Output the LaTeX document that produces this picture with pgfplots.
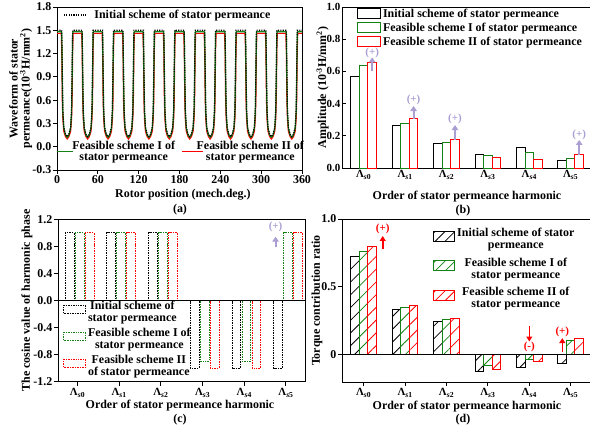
\documentclass[border=0pt]{standalone}
\usepackage{fontspec}
\setmainfont{Liberation Serif}
\usepackage{pgfplots}
\usepackage{pgfplotstable}
\pgfplotsset{compat=1.18}
\usetikzlibrary{arrows.meta,patterns.meta}

\definecolor{mygreen}{RGB}{20,130,20}
\definecolor{myred}{RGB}{255,0,0}
\definecolor{lav}{RGB}{170,158,210}

\newcommand{\fs}{\fontsize{12}{12}\selectfont\bfseries}
\newcommand{\fst}{\fontsize{11}{11}\selectfont\bfseries}
\newcommand{\Lam}[1]{Λ\textsubscript{\textit{s}#1}}

\pgfplotstableread{
x b g r
0 1.50 1.48 1.46
6.3 1.50 1.48 1.46
7 1.50 1.46 1.25
7.8 1.00 0.85 0.60
8.6 0.48 0.44 0.36
10 0.25 0.24 0.20
12.5 0.16 0.15 0.13
15 0.13 0.12 0.10
17.5 0.16 0.15 0.13
20 0.25 0.24 0.20
21.4 0.48 0.44 0.36
22.2 1.00 0.85 0.60
23 1.50 1.46 1.25
23.7 1.50 1.48 1.46
36.3 1.50 1.48 1.46
37 1.50 1.46 1.25
37.8 1.00 0.85 0.60
38.6 0.48 0.44 0.36
40 0.25 0.24 0.20
42.5 0.16 0.15 0.13
45 0.13 0.12 0.10
47.5 0.16 0.15 0.13
50 0.25 0.24 0.20
51.4 0.48 0.44 0.36
52.2 1.00 0.85 0.60
53 1.50 1.46 1.25
53.7 1.50 1.48 1.46
66.3 1.50 1.48 1.46
67 1.50 1.46 1.25
67.8 1.00 0.85 0.60
68.6 0.48 0.44 0.36
70 0.25 0.24 0.20
72.5 0.16 0.15 0.13
75 0.13 0.12 0.10
77.5 0.16 0.15 0.13
80 0.25 0.24 0.20
81.4 0.48 0.44 0.36
82.2 1.00 0.85 0.60
83 1.50 1.46 1.25
83.7 1.50 1.48 1.46
96.3 1.50 1.48 1.46
97 1.50 1.46 1.25
97.8 1.00 0.85 0.60
98.6 0.48 0.44 0.36
100 0.25 0.24 0.20
102.5 0.16 0.15 0.13
105 0.13 0.12 0.10
107.5 0.16 0.15 0.13
110 0.25 0.24 0.20
111.4 0.48 0.44 0.36
112.2 1.00 0.85 0.60
113 1.50 1.46 1.25
113.7 1.50 1.48 1.46
126.3 1.50 1.48 1.46
127 1.50 1.46 1.25
127.8 1.00 0.85 0.60
128.6 0.48 0.44 0.36
130 0.25 0.24 0.20
132.5 0.16 0.15 0.13
135 0.13 0.12 0.10
137.5 0.16 0.15 0.13
140 0.25 0.24 0.20
141.4 0.48 0.44 0.36
142.2 1.00 0.85 0.60
143 1.50 1.46 1.25
143.7 1.50 1.48 1.46
156.3 1.50 1.48 1.46
157 1.50 1.46 1.25
157.8 1.00 0.85 0.60
158.6 0.48 0.44 0.36
160 0.25 0.24 0.20
162.5 0.16 0.15 0.13
165 0.13 0.12 0.10
167.5 0.16 0.15 0.13
170 0.25 0.24 0.20
171.4 0.48 0.44 0.36
172.2 1.00 0.85 0.60
173 1.50 1.46 1.25
173.7 1.50 1.48 1.46
186.3 1.50 1.48 1.46
187 1.50 1.46 1.25
187.8 1.00 0.85 0.60
188.6 0.48 0.44 0.36
190 0.25 0.24 0.20
192.5 0.16 0.15 0.13
195 0.13 0.12 0.10
197.5 0.16 0.15 0.13
200 0.25 0.24 0.20
201.4 0.48 0.44 0.36
202.2 1.00 0.85 0.60
203 1.50 1.46 1.25
203.7 1.50 1.48 1.46
216.3 1.50 1.48 1.46
217 1.50 1.46 1.25
217.8 1.00 0.85 0.60
218.6 0.48 0.44 0.36
220 0.25 0.24 0.20
222.5 0.16 0.15 0.13
225 0.13 0.12 0.10
227.5 0.16 0.15 0.13
230 0.25 0.24 0.20
231.4 0.48 0.44 0.36
232.2 1.00 0.85 0.60
233 1.50 1.46 1.25
233.7 1.50 1.48 1.46
246.3 1.50 1.48 1.46
247 1.50 1.46 1.25
247.8 1.00 0.85 0.60
248.6 0.48 0.44 0.36
250 0.25 0.24 0.20
252.5 0.16 0.15 0.13
255 0.13 0.12 0.10
257.5 0.16 0.15 0.13
260 0.25 0.24 0.20
261.4 0.48 0.44 0.36
262.2 1.00 0.85 0.60
263 1.50 1.46 1.25
263.7 1.50 1.48 1.46
276.3 1.50 1.48 1.46
277 1.50 1.46 1.25
277.8 1.00 0.85 0.60
278.6 0.48 0.44 0.36
280 0.25 0.24 0.20
282.5 0.16 0.15 0.13
285 0.13 0.12 0.10
287.5 0.16 0.15 0.13
290 0.25 0.24 0.20
291.4 0.48 0.44 0.36
292.2 1.00 0.85 0.60
293 1.50 1.46 1.25
293.7 1.50 1.48 1.46
306.3 1.50 1.48 1.46
307 1.50 1.46 1.25
307.8 1.00 0.85 0.60
308.6 0.48 0.44 0.36
310 0.25 0.24 0.20
312.5 0.16 0.15 0.13
315 0.13 0.12 0.10
317.5 0.16 0.15 0.13
320 0.25 0.24 0.20
321.4 0.48 0.44 0.36
322.2 1.00 0.85 0.60
323 1.50 1.46 1.25
323.7 1.50 1.48 1.46
336.3 1.50 1.48 1.46
337 1.50 1.46 1.25
337.8 1.00 0.85 0.60
338.6 0.48 0.44 0.36
340 0.25 0.24 0.20
342.5 0.16 0.15 0.13
345 0.13 0.12 0.10
347.5 0.16 0.15 0.13
350 0.25 0.24 0.20
351.4 0.48 0.44 0.36
352.2 1.00 0.85 0.60
353 1.50 1.46 1.25
353.7 1.50 1.48 1.46
360 1.50 1.48 1.46
}\wave

\pgfplotsset{
  myaxis/.style={
    scale only axis, anchor=south west,
    axis line style={line width=1pt},
    tick align=outside, tick pos=left, major tick length=4bp,
    every tick/.style={black, line width=1pt},
    tick label style={font=\fs, inner sep=1.5bp},
    label style={font=\fs},
    legend style={font=\fs},
    clip mode=individual,
    /pgf/number format/assume math mode=true,
  },
  onedec/.style={yticklabel style={/pgf/number format/fixed, /pgf/number format/fixed zerofill, /pgf/number format/precision=1, /pgf/number format/assume math mode=true}},
  lamticks/.style={xtick={0,1,2,3,4,5}, xticklabels={\Lam{0},\Lam{1},\Lam{2},\Lam{3},\Lam{4},\Lam{5}}, xticklabel style={font=\fst, inner sep=2.5bp}},
  barbox/.style={legend image code/.code={\draw[#1,line width=1pt,fill=white] (0bp,-4.5bp) rectangle (23bp,5.5bp);}},
  dotbox/.style={legend image code/.code={\draw[#1,line width=0.9pt,dash pattern=on 1.5pt off 1pt] (0bp,-4bp) rectangle (22bp,4bp);}},
  hatchbox/.style={legend image code/.code={\draw[#1,line width=1pt,pattern={Lines[angle=45,distance=7bp,line width=0.8pt]},pattern color=#1] (0bp,-5bp) rectangle (21bp,5bp);}},
}

\begin{document}
\begin{tikzpicture}

% ---------------- (a)
\begin{axis}[myaxis, onedec, at={(57bp,-170bp)}, width=245bp, height=163bp,
  xmin=0, xmax=360, ymin=-0.3, ymax=1.8,
  xtick={0,60,120,180,240,300,360},
  ytick={-0.3,0,0.3,0.6,0.9,1.2,1.5,1.8},
  xlabel={Rotor position (mech.deg.)},
  xlabel style={at={(axis description cs:0.514,-0.15)}, anchor=center},
  ylabel={Waveform of stator\\permeance(10\textsuperscript{-3}H/mm\textsuperscript{2})},
  ylabel style={align=center, at={(axis description cs:-0.148,0.5)}, anchor=center},
  legend style={at={(axis description cs:0.0245,0.951)}, anchor=west, draw=none, fill=none, inner sep=0pt,
    /tikz/every odd column/.append style={column sep=6bp}},
  legend image code/.code={\draw[#1] (0bp,0bp) -- (22bp,0bp);},
]
\addplot[myred, line width=1.2pt, forget plot] table[x=x,y=r]{\wave};
\addplot[mygreen, line width=1.2pt, forget plot] table[x=x,y=g]{\wave};
\addplot[black, line width=1.2pt, dash pattern=on 1.2pt off 1.2pt] table[x=x,y=b]{\wave};
\addlegendentry{Initial scheme of stator permeance}
\draw[mygreen, line width=1.2pt] (axis cs:0,-0.065) -- (axis cs:23,-0.065);
\node[font=\fs, align=center] at (axis cs:98,-0.069) {Feasible scheme I of\\stator permeance};
\draw[myred, line width=1.2pt] (axis cs:184,-0.065) -- (axis cs:215,-0.065);
\node[font=\fs, align=center] at (axis cs:284,-0.069) {Feasible scheme II of\\stator permeance};
\end{axis}
\node[font=\fs] at (180bp,-210bp) {(a)};

% ---------------- (b)
\begin{axis}[myaxis, onedec, lamticks, at={(342bp,-168bp)}, width=248bp, height=161bp,
  tick align=inside,
  xmin=-0.524, xmax=5.466, ymin=0, ymax=1.0,
  ytick={0,0.2,0.4,0.6,0.8,1.0},
  yticklabel style={font=\fst},
  xlabel={Order of stator permeance harmonic},
  xlabel style={at={(axis description cs:0.504,-0.18)}, anchor=center},
  ylabel={Amplitude (10\textsuperscript{-3}H/mm\textsuperscript{2})},
  ylabel style={at={(axis description cs:-0.078,0.5)}, anchor=center},
  legend style={at={(axis description cs:0.06,1.0)}, anchor=north west, draw=none, fill=none, inner sep=0pt},
  legend cell align=left,
]
\addplot[ybar, bar width=0.205, bar shift=0pt, draw=black, fill=white, line width=1pt, barbox=black]
  coordinates {(-0.205,0.567) (0.795,0.262) (1.795,0.150) (2.795,0.085) (3.795,0.130) (4.795,0.047)};
\addlegendentry{Initial scheme of stator permeance}
\addplot[ybar, bar width=0.205, bar shift=0pt, draw=mygreen, fill=white, line width=1pt, barbox=mygreen]
  coordinates {(0,0.637) (1,0.278) (2,0.157) (3,0.078) (4,0.099) (5,0.062)};
\addlegendentry{Feasible scheme I of stator permeance}
\addplot[ybar, bar width=0.205, bar shift=0pt, draw=myred, fill=white, line width=1pt, barbox=myred]
  coordinates {(0.205,0.658) (1.205,0.307) (2.205,0.175) (3.205,0.068) (4.205,0.050) (5.205,0.082)};
\addlegendentry{Feasible scheme II of stator permeance}
\draw[lav, line width=2bp, -{Triangle[length=5bp,width=6.5bp]}] (axis cs:0.205,0.60) -- (axis cs:0.205,0.687);
\node[lav, font=\fst] at (axis cs:0.205,0.715) {(+)};
\draw[lav, line width=2bp, -{Triangle[length=5bp,width=6.5bp]}] (axis cs:1.205,0.306) -- (axis cs:1.205,0.385);
\node[lav, font=\fst] at (axis cs:1.205,0.422) {(+)};
\draw[lav, line width=2bp, -{Triangle[length=5bp,width=6.5bp]}] (axis cs:2.205,0.174) -- (axis cs:2.205,0.267);
\node[lav, font=\fst] at (axis cs:2.205,0.304) {(+)};
\draw[lav, line width=2bp, -{Triangle[length=5bp,width=6.5bp]}] (axis cs:5.205,0.081) -- (axis cs:5.205,0.174);
\node[lav, font=\fst] at (axis cs:5.205,0.205) {(+)};
\end{axis}
\node[font=\fs] at (463bp,-211bp) {(b)};

% ---------------- (c)
\begin{axis}[myaxis, onedec, lamticks, at={(58bp,-381.7bp)}, width=247bp, height=162.4bp,
  xmin=-0.468, xmax=5.456, ymin=-1.2, ymax=1.2,
  ytick={-1.2,-0.8,-0.4,0,0.4,0.8,1.2},
  xlabel={Order of stator permeance harmonic},
  xlabel style={at={(axis description cs:0.494,-0.15)}, anchor=center},
  ylabel={The cosine value of harmonic phase},
  ylabel style={at={(axis description cs:-0.1255,0.5)}, anchor=center},
  legend style={at={(axis description cs:0.02,0.51)}, anchor=north west, draw=none, fill=none, inner sep=0pt, row sep=6.5bp},
  legend cell align=left,
]
\addplot[ybar, bar width=0.21, bar shift=0pt, draw=black, fill=none, line width=0.9pt, dash pattern=on 1.5pt off 1pt, dotbox=black]
  coordinates {(-0.19,1) (0.81,1) (1.81,1) (2.81,-1) (3.81,-1) (4.81,-1)};
\addlegendentry{\begin{tabular}{@{}c@{}}Initial scheme of\\stator permeance\end{tabular}}
\addplot[ybar, bar width=0.21, bar shift=0pt, draw=mygreen, fill=none, line width=0.9pt, dash pattern=on 1.5pt off 1pt, dotbox=mygreen]
  coordinates {(0.05,1) (1.05,1) (2.05,1) (3.05,-0.9) (4.05,-0.9) (5.05,1)};
\addlegendentry{\begin{tabular}{@{}c@{}}Feasible scheme I of\\stator permeance\end{tabular}}
\addplot[ybar, bar width=0.21, bar shift=0pt, draw=myred, fill=none, line width=0.9pt, dash pattern=on 1.5pt off 1pt, dotbox=myred]
  coordinates {(0.29,1) (1.29,1) (2.29,1) (3.29,-1) (4.29,-1) (5.29,1)};
\addlegendentry{\begin{tabular}{@{}c@{}}Feasible scheme II\\of stator permeance\end{tabular}}
\draw[black, line width=1pt] ({rel axis cs:0,0}|-{axis cs:0,0}) -- ({rel axis cs:1,0}|-{axis cs:0,0});
\draw[lav, line width=2bp, -{Triangle[length=5bp,width=6.5bp]}] (axis cs:4.75,0.786) -- (axis cs:4.75,0.943);
\node[lav, font=\fst] at (axis cs:4.75,1.09) {(+)};
\end{axis}
\node[font=\fs] at (180bp,-419.5bp) {(c)};

% ---------------- (d)
\begin{axis}[myaxis, lamticks, at={(342bp,-382bp)}, width=248bp, height=163bp,
  xmin=-0.524, xmax=5.466, ymin=-0.2, ymax=1.0,
  ytick={0,0.5,1}, yticklabels={0,0.5,1.0},
  xlabel={Order of stator permeance harmonic},
  xlabel style={at={(axis description cs:0.504,-0.153)}, anchor=center},
  ylabel={Torque contribution ratio},
  ylabel style={at={(axis description cs:-0.1008,0.5)}, anchor=center},
  legend style={at={(axis description cs:0.367,0.957)}, anchor=north west, draw=none, fill=none, inner sep=0pt, row sep=9bp},
  legend cell align=center,
]
\addplot[ybar, bar width=0.205, bar shift=0pt, draw=black, line width=1pt, pattern={Lines[angle=45,distance=9bp,line width=0.8pt]}, pattern color=black, hatchbox=black]
  coordinates {(-0.205,0.725) (0.795,0.332) (1.795,0.246) (2.795,-0.123) (3.795,-0.090) (4.795,-0.066)};
\addlegendentry{\begin{tabular}{@{}c@{}}Initial scheme of stator\\permeance\end{tabular}}
\addplot[ybar, bar width=0.205, bar shift=0pt, draw=mygreen, line width=1pt, pattern={Lines[angle=45,distance=9bp,line width=0.8pt]}, pattern color=mygreen, hatchbox=mygreen]
  coordinates {(0,0.762) (1,0.349) (2,0.263) (3,-0.081) (4,-0.032) (5,0.105)};
\addlegendentry{\begin{tabular}{@{}c@{}}Feasible scheme I of\\stator permeance\end{tabular}}
\addplot[ybar, bar width=0.205, bar shift=0pt, draw=myred, line width=1pt, pattern={Lines[angle=45,distance=9bp,line width=0.8pt]}, pattern color=myred, hatchbox=myred]
  coordinates {(0.205,0.799) (1.205,0.364) (2.205,0.270) (3.205,-0.106) (4.205,-0.049) (5.205,0.117)};
\addlegendentry{\begin{tabular}{@{}c@{}}Feasible scheme II of\\stator permeance\end{tabular}}
\draw[black, line width=1pt] ({rel axis cs:0,0}|-{axis cs:0,0}) -- ({rel axis cs:1,0}|-{axis cs:0,0});
\draw[myred, line width=1.6bp, -{Triangle[length=5bp,width=6bp]}] (axis cs:0.46,0.777) -- (axis cs:0.46,0.875);
\node[myred, font=\fst] at (axis cs:0.46,0.926) {(+)};
\draw[myred, line width=1.6bp, -{Triangle[length=5bp,width=6bp]}] (axis cs:4,0.213) -- (axis cs:4,0.098);
\node[myred, font=\fst] at (axis cs:4,0.057) {(-)};
\draw[myred, line width=1.6bp, -{Triangle[length=5bp,width=6bp]}] (axis cs:4.797,0.024) -- (axis cs:4.797,0.123);
\node[myred, font=\fst] at (axis cs:4.797,0.171) {(+)};
\end{axis}
\node[font=\fs] at (463bp,-420bp) {(d)};

\pgfresetboundingbox
\useasboundingbox (0bp,0bp) rectangle (590bp,-429bp);
\end{tikzpicture}
\end{document}
